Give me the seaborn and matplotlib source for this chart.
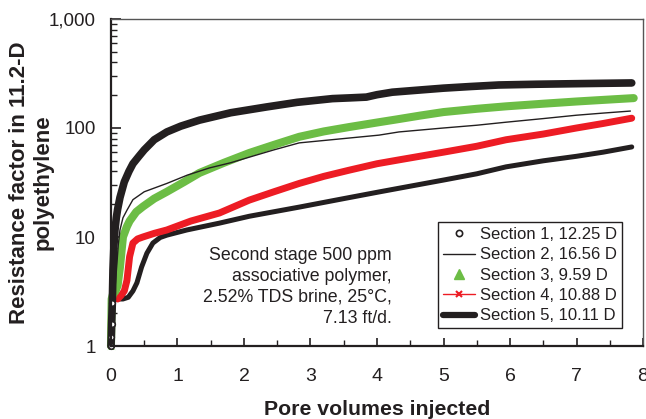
import matplotlib
matplotlib.use("Agg")
import matplotlib.pyplot as plt
from matplotlib.lines import Line2D
from matplotlib.ticker import FixedLocator, LogLocator, FuncFormatter, MultipleLocator, NullFormatter
import numpy as np
import pandas as pd
import seaborn as sns

# Resistance factor vs. pore volumes injected for five core sections
s1_pv = [0, 0.005, 0.01, 0.02, 0.03, 0.045, 0.06, 0.08, 0.1, 0.135, 0.2, 0.27, 0.33, 0.42, 0.5,
         0.65, 0.84, 1.05, 1.33, 1.8, 2.34, 2.8, 3.33, 3.6, 3.84, 4.0, 4.23, 4.6, 5.0, 5.4,
         5.83, 6.4, 7.0, 7.4, 7.83]
s1_rf = [1, 1.2, 1.6, 2.5, 5, 8.5, 11.6, 15, 18, 23, 32, 40, 47, 55, 63,
         78, 92, 104, 118, 138, 156, 172, 186, 189, 192, 202, 213, 222, 232, 240,
         248, 252, 255, 257, 259]

s2_pv = [0, 0.01, 0.05, 0.07, 0.09, 0.11, 0.135, 0.18, 0.24, 0.33, 0.5, 0.84, 1.15, 1.48, 1.8,
         2.08, 2.45, 2.83, 3.5, 4.03, 4.33, 5.0, 5.5, 5.94, 6.5, 7.0, 7.4, 7.81]
s2_rf = [1, 2.7, 2.8, 4, 5.8, 8.5, 11.6, 15, 17.6, 22, 26, 31, 37, 43, 48,
         54, 63, 73, 80, 86, 92, 100, 106, 113, 122, 131, 137, 143]

s3_pv = [0, 0.01, 0.03, 0.07, 0.1, 0.135, 0.18, 0.24, 0.28, 0.38, 0.48, 0.65, 0.84, 1.1, 1.33,
         1.7, 2.08, 2.45, 2.83, 3.2, 3.58, 4.03, 4.3, 4.65, 5.0, 5.5, 5.94, 6.5, 7.0, 7.4, 7.86]
s3_rf = [1, 2.7, 3.0, 3.2, 3.6, 5.3, 10, 12.5, 14, 17, 19, 22.5, 26, 32, 38.7,
         48, 59, 70, 83, 93, 102, 113, 120, 130, 140, 150, 158, 167, 175, 181, 188]

s4_pv = [0, 0.01, 0.05, 0.1, 0.15, 0.2, 0.24, 0.28, 0.33, 0.4, 0.48, 0.65, 0.84, 1.2, 1.63,
         2.08, 2.45, 2.83, 3.2, 3.58, 4.0, 4.33, 5.0, 5.5, 5.94, 6.5, 7.0, 7.4, 7.83]
s4_rf = [1, 2.6, 3.0, 2.7, 2.9, 3.2, 4.0, 6.6, 8.8, 9.6, 10, 10.8, 11.6, 14, 16.6,
         21.8, 26, 31, 36, 41, 47, 51, 60, 68, 78, 88, 100, 110, 123]

s5_pv = [0, 0.01, 0.05, 0.18, 0.26, 0.33, 0.39, 0.46, 0.54, 0.63, 0.74, 0.84, 1.14, 1.63, 2.08,
         2.83, 3.5, 4.03, 4.33, 5.0, 5.5, 5.94, 6.5, 7.0, 7.4, 7.83]
s5_rf = [1, 2.7, 2.7, 2.7, 2.8, 3.2, 3.8, 5.3, 7.1, 8.8, 9.9, 10.4, 11.6, 13.4, 15.5,
         18.8, 22.5, 25.9, 28, 33.3, 38, 44, 50, 55, 60, 67]

labels = ["Section 1, 12.25 D", "Section 2, 16.56 D", "Section 3, 9.59 D",
          "Section 4, 10.88 D", "Section 5, 10.11 D"]
y_ticks = [1, 10, 100, 1000]
x_ticks = [0, 1, 2, 3, 4, 5, 6, 7, 8]

note = ("Second stage 500 ppm\nassociative polymer,\n"
        "2.52% TDS brine, 25\u00b0C,\n7.13 ft/d.")

BLACK = "#231f20"
GREEN = "#6cbd45"
RED = "#ed1c24"

sns.set_theme(style="ticks")
plt.rcParams["font.family"] = ["Liberation Sans", "DejaVu Sans"]

fig = plt.figure(figsize=(6.46, 4.19), dpi=100)
ax = fig.add_axes([0.1718, 0.1742, 0.8236, 0.7805])

frames = []
for lab, pv, rf in zip(labels, [s1_pv, s2_pv, s3_pv, s4_pv, s5_pv],
                       [s1_rf, s2_rf, s3_rf, s4_rf, s5_rf]):
    frames.append(pd.DataFrame({"pv": pv, "rf": rf, "section": lab}))
df = pd.concat(frames, ignore_index=True)

styles = {
    labels[4]: dict(color=BLACK, lw=3.6),
    labels[3]: dict(color=RED, lw=5.0, marker="x", markevery=[0], ms=6, mew=2),
    labels[2]: dict(color=GREEN, lw=5.8, marker="^", markevery=[0], ms=6),
    labels[1]: dict(color=BLACK, lw=1.0),
    labels[0]: dict(color=BLACK, lw=5.5, marker="o", markevery=[0, 1, 2, 3],
                    ms=4, mfc="white", mec=BLACK, mew=1.2),
}
for lab in [labels[4], labels[3], labels[2], labels[1], labels[0]]:
    st = styles[lab]
    extra = {k: v for k, v in st.items() if k not in ("color", "lw")}
    sns.lineplot(data=df[df["section"] == lab], x="pv", y="rf", ax=ax,
                 color=st["color"], linewidth=st["lw"], sort=False,
                 estimator=None, legend=False, clip_on=False,
                 solid_capstyle="round", solid_joinstyle="round", **extra)

ax.set_yscale("log")
ax.set_xlim(0, 8)
ax.set_ylim(1, 1000)
ax.xaxis.set_major_locator(FixedLocator(x_ticks))
ax.xaxis.set_minor_locator(MultipleLocator(0.5))
ax.yaxis.set_major_locator(FixedLocator(y_ticks))
ax.yaxis.set_minor_locator(LogLocator(base=10, subs=np.arange(2, 10)))
ax.yaxis.set_minor_formatter(NullFormatter())
ax.yaxis.set_major_formatter(FuncFormatter(lambda v, p: f"{int(v):,}"))

ax.tick_params(axis="both", which="both", direction="in", colors=BLACK,
               labelcolor="#231f20", top=False, right=False)
ax.tick_params(axis="x", which="major", length=6, width=1.2, pad=16, labelsize=14)
ax.tick_params(axis="x", which="minor", length=4, width=1.0)
ax.tick_params(axis="y", which="major", length=7, width=1.2, pad=11, labelsize=13.5)
ax.tick_params(axis="y", which="minor", length=4.5, width=1.0)

for side in ("left", "bottom"):
    ax.spines[side].set_color(BLACK)
    ax.spines[side].set_linewidth(1.6)
for side in ("top", "right"):
    ax.spines[side].set_visible(True)
    ax.spines[side].set_color("#555555")
    ax.spines[side].set_linewidth(1.0)

ax.set_xlabel("Pore volumes injected", fontsize=15.3, fontweight="bold", color=BLACK)
ax.set_ylabel("Resistance factor in 11.2-D\npolyethylene", fontsize=16,
              fontweight="bold", color=BLACK, linespacing=1.2)
ax.xaxis.set_label_coords(0.5, -0.165)
ax.yaxis.set_label_coords(-0.107, 0.5)

ax.text(0.528, 0.303, note, transform=ax.transAxes, ha="right", va="top",
        multialignment="right", fontsize=12.8, color=BLACK, linespacing=1.3)

handles = [
    Line2D([], [], ls="none", marker="o", mfc="none", mec=BLACK, ms=4.5, mew=1.2),
    Line2D([], [], color=BLACK, lw=1.0),
    Line2D([], [], ls="none", marker="^", color=GREEN, ms=7),
    Line2D([], [], color=RED, lw=1.0, marker="x", ms=4, mew=1.5),
    Line2D([], [], color=BLACK, lw=4.5),
]
leg = ax.legend(handles, labels, loc="upper right", bbox_to_anchor=(0.9605, 0.379),
                fontsize=12, frameon=True, fancybox=False, framealpha=1,
                edgecolor=BLACK, handlelength=1.9, handletextpad=0.3,
                labelspacing=0.32, borderpad=0.3, borderaxespad=0)
leg.get_frame().set_linewidth(1.0)
for t in leg.get_texts():
    t.set_color(BLACK)

fig.savefig("out.png", dpi=100)
